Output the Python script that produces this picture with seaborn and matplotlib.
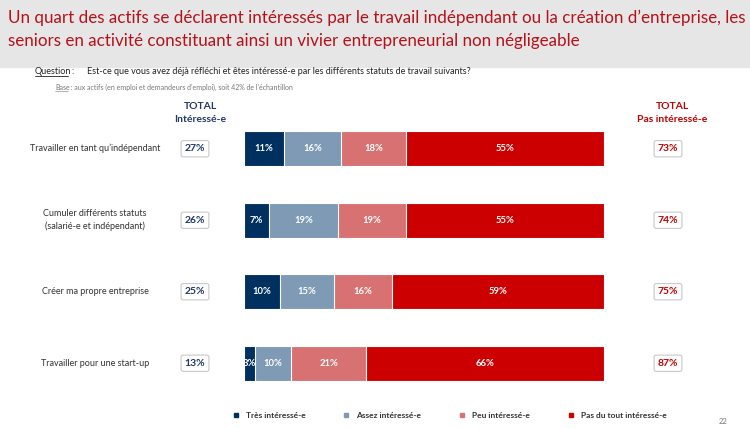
import numpy as np
import pandas as pd
import matplotlib.pyplot as plt
import seaborn as sns
from matplotlib.lines import Line2D
from matplotlib.patches import Rectangle

# Données
categories = ["Travailler en tant qu’indépendant",
              "Cumuler différents statuts\n(salarié-e et indépendant)",
              "Créer ma propre entreprise",
              "Travailler pour une start-up"]
tres = [11, 7, 10, 3]
assez = [16, 19, 15, 10]
peu = [18, 19, 16, 21]
pas_du_tout = [55, 55, 59, 66]
total_interesse = [27, 26, 25, 13]
total_pas = [73, 74, 75, 87]
series = ["Très intéressé-e", "Assez intéressé-e", "Peu intéressé-e", "Pas du tout intéressé-e"]
couleurs = ["#003060", "#7F9AB5", "#D87272", "#CC0000"]

W, H = 750, 428
sns.set_theme(style="white")
plt.rcParams['font.family'] = ['Lato', 'DejaVu Sans']

fig = plt.figure(figsize=(W / 100, H / 100), dpi=100)

def px(x, y):
    return x / W, 1 - y / H

# bandeau de titre
fig.patches.append(Rectangle((0, 1 - 67 / H), 1, 67 / H, transform=fig.transFigure,
                             color="#E6E6E6", zorder=0))
t1 = fig.text(*px(8, 18), "Un quart des actifs se déclarent intéressés par le travail indépendant ou la création d’entreprise, les",
              color="#B5121B", fontsize=13, va="center", ha="left")
t2 = fig.text(*px(8, 41), "seniors en activité constituant ainsi un vivier entrepreneurial non négligeable",
              color="#B5121B", fontsize=13, va="center", ha="left")
# ajuster la taille du titre à la largeur de la ligne (737 px)
r = fig.canvas.get_renderer()
w1 = t1.get_window_extent(r).width
fs = 13 * 737 / w1
t1.set_fontsize(fs)
t2.set_fontsize(fs)

fig.text(*px(35, 71), "Question", fontsize=6.5, va="center", color="#222222")
fig.lines.append(Line2D([35 / W, 68 / W], [1 - 76 / H, 1 - 76 / H], transform=fig.transFigure,
                        color="#222222", lw=0.6))
fig.text(*px(71, 71), ":", fontsize=6.5, va="center", color="#222222")
fig.text(*px(87, 71), "Est-ce que vous avez déjà réfléchi et êtes intéressé-e par les différents statuts de travail suivants?",
         fontsize=6.5, va="center", color="#222222")
fig.text(*px(55, 87), "Base", fontsize=5, va="center", color="#777777")
fig.lines.append(Line2D([55 / W, 68 / W], [1 - 90.5 / H, 1 - 90.5 / H], transform=fig.transFigure,
                        color="#777777", lw=0.4))
fig.text(*px(69, 87), " : aux actifs (en emploi et demandeurs d’emploi), soit 42% de l’échantillon",
         fontsize=5, va="center", color="#777777")

fig.text(*px(200, 113), "TOTAL\nIntéressé-e", fontsize=7.5, ha="center", va="center",
         color="#1F3864", fontweight="bold", linespacing=1.45)
fig.text(*px(672, 113), "TOTAL\nPas intéressé-e", fontsize=7.5, ha="center", va="center",
         color="#C00000", fontweight="bold", linespacing=1.45)

# barres empilées
ax = fig.add_axes([244 / W, 1 - 399 / H, 360 / W, 286 / H])
df = pd.DataFrame({"cat": categories, series[0]: tres, series[1]: assez,
                   series[2]: peu, series[3]: pas_du_tout})
cum = df[series].cumsum(axis=1)
for i in range(len(series) - 1, -1, -1):
    sns.barplot(x=cum[series[i]], y=df["cat"], orient="h", color=couleurs[i],
                width=0.49, edgecolor="white", linewidth=0.8, saturation=1, ax=ax)
for j in range(len(categories)):
    start = 0
    for i, s in enumerate(series):
        v = df[s][j]
        ax.text(start + v / 2, j, f"{v}%", ha="center", va="center", color="white",
                fontsize=6.8, fontweight="bold")
        start += v
ax.set_xlim(0, 100)
ax.set_ylim(3.5, -0.5)
ax.axis("off")

for j, cat in enumerate(categories):
    yc = ax.transData.transform((0, j))[1]
    yf = fig.transFigure.inverted().transform((0, yc))[1]
    fig.text(95 / W, yf, cat, ha="center", va="center", fontsize=6.5, color="#333333",
             linespacing=1.4)
    fig.text(195 / W, yf, f"{total_interesse[j]}%", ha="center", va="center", fontsize=7.5,
             color="#1F3864", fontweight="bold",
             bbox=dict(boxstyle="round,pad=0.35,rounding_size=0.2", fc="white", ec="#C8C8C8", lw=0.8))
    fig.text(668 / W, yf, f"{total_pas[j]}%", ha="center", va="center", fontsize=7.5,
             color="#C00000", fontweight="bold",
             bbox=dict(boxstyle="round,pad=0.35,rounding_size=0.2", fc="white", ec="#C8C8C8", lw=0.8))

handles = [Line2D([], [], marker="s", ls="", color=c, markersize=3.5) for c in couleurs]
leg = fig.legend(handles, series, loc="center", bbox_to_anchor=(*px(447, 415),), ncol=4,
                 frameon=False, fontsize=6, handletextpad=0.2, columnspacing=3.9)
for t in leg.get_texts():
    t.set_color("#333333")
    t.set_fontweight("bold")

fig.text(*px(719, 422), "22", fontsize=5.5, color="#777777", va="center")

fig.savefig("out.png", dpi=100)
